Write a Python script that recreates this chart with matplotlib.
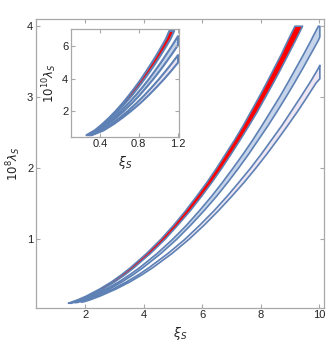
import matplotlib
matplotlib.use('Agg')
import matplotlib.pyplot as plt

plt.rcParams['font.family'] = ['Liberation Sans', 'DejaVu Sans']
plt.rcParams['mathtext.fontset'] = 'dejavusans'

# main panel: lambda levels (units of 1e-8) and left/right xi edges of each band
lam1 = [0.10, 0.15, 0.20, 0.30, 0.40, 0.50, 0.60, 0.80, 1.00, 1.20, 1.40, 1.60,
        1.80, 2.00, 2.20, 2.40, 2.60, 2.80, 3.00, 3.20, 3.40, 3.60, 3.80, 4.00]
xl1 = [1.41, 1.74, 2.02, 2.48, 2.88, 3.22, 3.53, 4.08, 4.57, 5.01, 5.41, 5.78,
       6.14, 6.47, 6.78, 7.09, 7.38, 7.65, 7.92, 8.18, 8.43, 8.68, 8.91, 9.15]
xr1 = [1.52, 1.85, 2.13, 2.60, 2.99, 3.34, 3.65, 4.21, 4.71, 5.15, 5.57, 5.95,
       6.31, 6.65, 6.97, 7.28, 7.58, 7.87, 8.14, 8.41, 8.67, 8.92, 9.17, 9.41]

lam2 = [0.11, 0.15, 0.20, 0.30, 0.40, 0.50, 0.60, 0.80, 1.00, 1.20, 1.40, 1.60,
        1.80, 2.00, 2.20, 2.40, 2.60, 2.80, 3.00, 3.20, 3.40, 3.60, 3.80, 3.85, 4.00]
xl2 = [1.62, 1.90, 2.20, 2.70, 3.13, 3.50, 3.84, 4.44, 4.97, 5.45, 5.88, 6.29,
       6.67, 7.03, 7.38, 7.71, 8.02, 8.32, 8.62, 8.90, 9.17, 9.44, 9.70, 9.76, 9.95]
xr2 = [1.72, 2.00, 2.31, 2.82, 3.24, 3.62, 3.96, 4.57, 5.11, 5.59, 6.04, 6.46,
       6.85, 7.22, 7.57, 7.90, 8.23, 8.54, 8.84, 9.13, 9.41, 9.68, 9.95, 10.0, 10.0]

lam3 = [0.12, 0.15, 0.20, 0.30, 0.40, 0.50, 0.60, 0.80, 1.00, 1.20, 1.40, 1.60,
        1.80, 2.00, 2.20, 2.40, 2.60, 2.80, 3.00, 3.20, 3.26, 3.40, 3.45]
xl3 = [1.84, 2.06, 2.39, 2.93, 3.39, 3.80, 4.16, 4.81, 5.39, 5.90, 6.38, 6.82,
       7.23, 7.63, 8.00, 8.35, 8.70, 9.02, 9.34, 9.65, 9.74, 9.94, 10.0]
xr3 = [1.94, 2.17, 2.49, 3.04, 3.51, 3.92, 4.29, 4.95, 5.53, 6.05, 6.53, 6.98,
       7.41, 7.81, 8.19, 8.55, 8.90, 9.24, 9.56, 9.87, 10.0, 10.0, 10.0]

# inset: lambda in units of 1e-10
ilam1 = [0.50, 0.80, 1.20, 1.60, 2.00, 2.50, 3.00, 3.50, 4.00, 4.50, 5.00, 5.50,
         6.00, 6.50, 7.00]
ixl1 = [0.254, 0.340, 0.420, 0.490, 0.555, 0.628, 0.695, 0.758, 0.818, 0.873,
        0.927, 0.978, 1.027, 1.074, 1.110]
ixr1 = [0.266, 0.356, 0.438, 0.512, 0.580, 0.656, 0.727, 0.792, 0.854, 0.913,
        0.969, 1.022, 1.073, 1.122, 1.160]

ilam2 = [0.50, 0.80, 1.20, 1.60, 2.00, 2.50, 3.00, 3.50, 4.00, 4.50, 5.00, 5.50,
         6.00, 6.12, 6.50, 6.68]
ixl2 = [0.273, 0.369, 0.458, 0.537, 0.608, 0.690, 0.764, 0.834, 0.899, 0.960,
        1.019, 1.074, 1.129, 1.142, 1.181, 1.200]
ixr2 = [0.287, 0.387, 0.482, 0.565, 0.640, 0.726, 0.804, 0.876, 0.945, 1.010,
        1.071, 1.130, 1.187, 1.200, 1.200, 1.200]

ilam3 = [0.50, 0.80, 1.20, 1.60, 2.00, 2.50, 3.00, 3.50, 4.00, 4.50, 5.00, 5.03, 5.50]
ixl3 = [0.292, 0.410, 0.512, 0.600, 0.680, 0.771, 0.854, 0.931, 1.004, 1.072,
        1.138, 1.142, 1.200]
ixr3 = [0.308, 0.432, 0.538, 0.630, 0.714, 0.811, 0.898, 0.979, 1.056, 1.128,
        1.196, 1.200, 1.200]

edge = '#5e81b5'
fills = ['#ff0000', '#c5d4ea', '#eee6f2']
frame = '#a8a8a8'
txt = '#222222'


def style(ax, fs):
    for s in ax.spines.values():
        s.set_color(frame)
        s.set_linewidth(0.9)
    ax.tick_params(direction='in', length=3, width=0.8, color=frame,
                   labelsize=fs, labelcolor=txt, top=True, right=True, pad=2)


fig = plt.figure(figsize=(3.32, 3.48), dpi=100)
ax = fig.add_axes([0.1084, 0.1158, 0.8676, 0.8287])

bands = [(lam1, xl1, xr1), (lam2, xl2, xr2), (lam3, xl3, xr3)]
for (l, a, b), c in zip(bands, fills):
    ax.fill_betweenx(l, a, b, facecolor=c, edgecolor=edge, linewidth=1.2,
                     joinstyle='round')

ax.set_xlim(0.32, 10.16)
ax.set_ylim(0.03, 4.09)
ax.set_xticks([2, 4, 6, 8, 10])
ax.set_yticks([1, 2, 3, 4])
style(ax, 8)
ax.set_xlabel(r'$\xi_S$', fontsize=9, color=txt, labelpad=3)
ax.set_ylabel(r'$10^8\lambda_S$', fontsize=8.5, color=txt, labelpad=3)

ins = fig.add_axes([0.2139, 0.6072, 0.3238, 0.3108])
ibands = [(ilam1, ixl1, ixr1), (ilam2, ixl2, ixr2), (ilam3, ixl3, ixr3)]
for (l, a, b), c in zip(ibands, fills):
    ins.fill_betweenx(l, a, b, facecolor=c, edgecolor=edge, linewidth=1.5,
                      joinstyle='round')

ins.set_xlim(0.10, 1.21)
ins.set_ylim(0.375, 7.12)
ins.set_xticks([0.4, 0.8, 1.2])
ins.set_yticks([2, 4, 6])
style(ins, 8)
ins.set_xlabel(r'$\xi_S$', fontsize=9, color=txt, labelpad=3)
ins.set_ylabel(r'$10^{10}\lambda_S$', fontsize=8.5, color=txt, labelpad=2)

fig.savefig('out.png', dpi=100)
